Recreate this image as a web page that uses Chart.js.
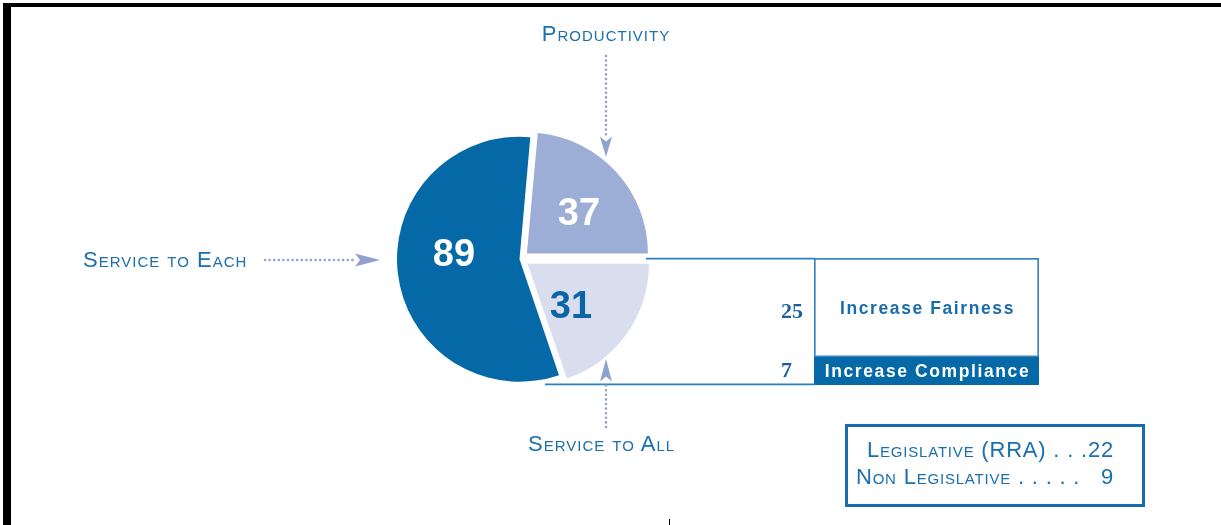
<!DOCTYPE html>
<html>
<head>
<meta charset="utf-8">
<title>Service to Each / Productivity / Service to All</title>
<script src="https://cdn.jsdelivr.net/npm/chart.js@4.4.1/dist/chart.umd.min.js"></script>
<style>
  html, body { margin: 0; padding: 0; background: #fff; }
  #page { position: relative; width: 1221px; height: 525px; overflow: hidden; background: #fff;
          font-family: "Liberation Sans", Arial, sans-serif; }
  .frame-top { position: absolute; left: 3px; top: 3px; width: 1218px; height: 4px; background: #000; }
  .frame-left { position: absolute; left: 3px; top: 3px; width: 8px; height: 522px; background: #000; }
  .cap { position: absolute; font-variant: small-caps; font-size: 22px; line-height: 22px;
         color: #1a6fae; letter-spacing: 1px; white-space: nowrap; }
  #pieWrap { position: absolute; left: 381px; top: 119px; width: 280px; height: 280px; }
  #barWrap { position: absolute; left: 770px; top: 258px; width: 270px; height: 127px; }
  #legendBox { position: absolute; left: 845px; top: 424px; width: 294px; height: 77px;
               border: 3px solid #1a6dac; }
  .leg { position: absolute; font-size: 22px; line-height: 22px;
         color: #1a6fae; font-variant: small-caps; letter-spacing: 0.8px; white-space: pre; text-align: right; }
  #overlay { position: absolute; left: 0; top: 0; }
</style>
</head>
<body>
<div id="page">
  <div class="frame-top"></div>
  <div class="frame-left"></div>

  <div id="pieWrap"><canvas id="pieChart" width="280" height="280"></canvas></div>
  <div id="barWrap"><canvas id="barChart" width="270" height="127"></canvas></div>

  <svg id="overlay" width="1221" height="525">
    <!-- kopplingslinjer mellan tårtbit och stapel -->
    <g stroke="#2f7fbe" stroke-width="1.6">
      <line x1="646" y1="258.6" x2="815" y2="258.6"/>
      <line x1="545" y1="384.4" x2="815" y2="384.4"/>
    </g>
    <!-- prickade pilar -->
    <g stroke="#8fa2cf" stroke-width="2.6" stroke-linecap="round" stroke-dasharray="0 4.6" fill="none">
      <line x1="606" y1="56" x2="606" y2="136"/>
      <line x1="265" y1="260" x2="353" y2="260"/>
      <line x1="606" y1="427" x2="606" y2="385"/>
    </g>
    <g fill="#8fa2cf">
      <path d="M600 136.5 L606 141.5 L612 136.5 L606 157 Z"/>
      <path d="M355 253.5 L360 260 L355 266.5 L380 260 Z"/>
      <path d="M600 381.5 L606 376.5 L612 381.5 L606 359 Z"/>
    </g>
    <line x1="669.5" y1="519" x2="669.5" y2="525" stroke="#000" stroke-width="1"/>
  </svg>

  <div class="cap" style="left:456px; width:300px; text-align:center; top:23px;">Productivity</div>
  <div class="cap" style="left:83px; top:249px;">Service to Each</div>
  <div class="cap" style="left:528px; top:433px;">Service to All</div>

  <div id="legendBox"></div>
  <div id="legendLines"></div>
</div>

<script>
/**
 * kategorier och värden i tårtan
 */
const pieLabels = ["Productivity", "Service to All", "Service to Each"];
const pieValues = [37, 31, 89];

/**
 * delar av stapeln (nedifrån och upp)
 */
const barLabels = ["Increase Compliance", "Increase Fairness"];
const barValues = [7, 25];

/**
 * rutan nere till höger
 */
const legendLabels = ["Legislative (RRA)", "Non Legislative"];
const legendValues = [22, 9];
const legendLeaders = [" . . .", " . . . . .   "];

// stil
const pieColors = ["#9caed5", "#d8deee", "#0569a8"];
const pieTextColors = ["#ffffff", "#0b64a4", "#ffffff"];
const pieLabelOffsets = [[58, -47.5], [50, 45], [-67, -6.5]];
// chart.js delar offset med 4 för bitar under en halv cirkel
const pieOffsets = [32, 32, 6];
const barColors = ["#0569a8", "#ffffff"];
const barTextColors = ["#ffffff", "#1a6dac"];

const pieTotal = pieValues.reduce((a, b) => a + b, 0);
const barTotal = barValues.reduce((a, b) => a + b, 0);

/**
 * skriver siffrorna i tårtbitarna
 */
const pieLabelPlugin = {
    id: "pieLabels",
    afterDatasetsDraw(chart) {
        const ctx = chart.ctx;
        const arcs = chart.getDatasetMeta(0).data;
        ctx.save();
        ctx.font = "bold 38px 'Liberation Sans', Arial, sans-serif";
        ctx.textAlign = "center";
        ctx.textBaseline = "alphabetic";
        arcs.forEach((arc, i) => {
            ctx.fillStyle = pieTextColors[i];
            ctx.fillText(String(pieValues[i]), arc.x + pieLabelOffsets[i][0], arc.y + pieLabelOffsets[i][1] + 13.6);
        });
        ctx.restore();
    }
};

/**
 * skriver texter i stapeln och värden till vänster
 */
const barLabelPlugin = {
    id: "barLabels",
    afterDatasetsDraw(chart) {
        const ctx = chart.ctx;
        const left = chart.chartArea.left;
        ctx.save();
        chart.data.datasets.forEach((ds, i) => {
            const bar = chart.getDatasetMeta(i).data[0];
            const midY = (bar.y + bar.base) / 2;
            ctx.font = "bold 17.5px 'Liberation Sans', Arial, sans-serif";
            if ("letterSpacing" in ctx) ctx.letterSpacing = "1.6px";
            ctx.fillStyle = barTextColors[i];
            ctx.textAlign = "center";
            ctx.textBaseline = "alphabetic";
            ctx.fillText(ds.label, bar.x + 1, midY + 6.3);
            if ("letterSpacing" in ctx) ctx.letterSpacing = "0px";
            ctx.font = "bold 22px 'Liberation Serif', 'Times New Roman', serif";
            ctx.fillStyle = "#1a5f9e";
            ctx.textAlign = "left";
            ctx.fillText(String(barValues[i]), left - 33, midY + 8 + (i === 1 ? 2 : -2));
        });
        ctx.restore();
    }
};

const pieChart = new Chart(document.getElementById("pieChart"), {
    type: "pie",
    data: {
        labels: pieLabels,
        datasets: [{
            data: pieValues,
            backgroundColor: pieColors,
            borderWidth: 0,
            offset: pieOffsets
        }]
    },
    options: {
        responsive: false,
        animation: false,
        events: [],
        radius: 121,
        rotation: 90 - pieValues[0] / pieTotal * 360,
        layout: { padding: 0 },
        plugins: {
            legend: { display: false },
            tooltip: { enabled: false }
        }
    },
    plugins: [pieLabelPlugin]
});

const barChart = new Chart(document.getElementById("barChart"), {
    type: "bar",
    data: {
        labels: [""],
        datasets: barLabels.map((lab, i) => ({
            label: lab,
            data: [barValues[i]],
            backgroundColor: barColors[i],
            borderColor: "#3a85c2",
            borderWidth: i === 1 ? 2 : 0,
            borderSkipped: false,
            barPercentage: 1,
            categoryPercentage: 1
        }))
    },
    options: {
        responsive: false,
        animation: false,
        events: [],
        layout: { padding: { left: 44, right: 1, top: 0, bottom: 0 } },
        scales: {
            x: { stacked: true, display: false },
            y: { stacked: true, display: false, min: 0, max: barTotal }
        },
        plugins: {
            legend: { display: false },
            tooltip: { enabled: false }
        }
    },
    plugins: [barLabelPlugin]
});

// rutan med lagstiftning
const legendWrap = document.getElementById("legendLines");
const legendTops = [439, 465.5];
legendLabels.forEach((lab, i) => {
    const div = document.createElement("div");
    div.className = "leg";
    div.style.top = legendTops[i] + "px";
    div.style.left = "800px";
    div.style.width = "314px";
    div.textContent = lab + legendLeaders[i] + legendValues[i];
    legendWrap.appendChild(div);
});
</script>
</body>
</html>
